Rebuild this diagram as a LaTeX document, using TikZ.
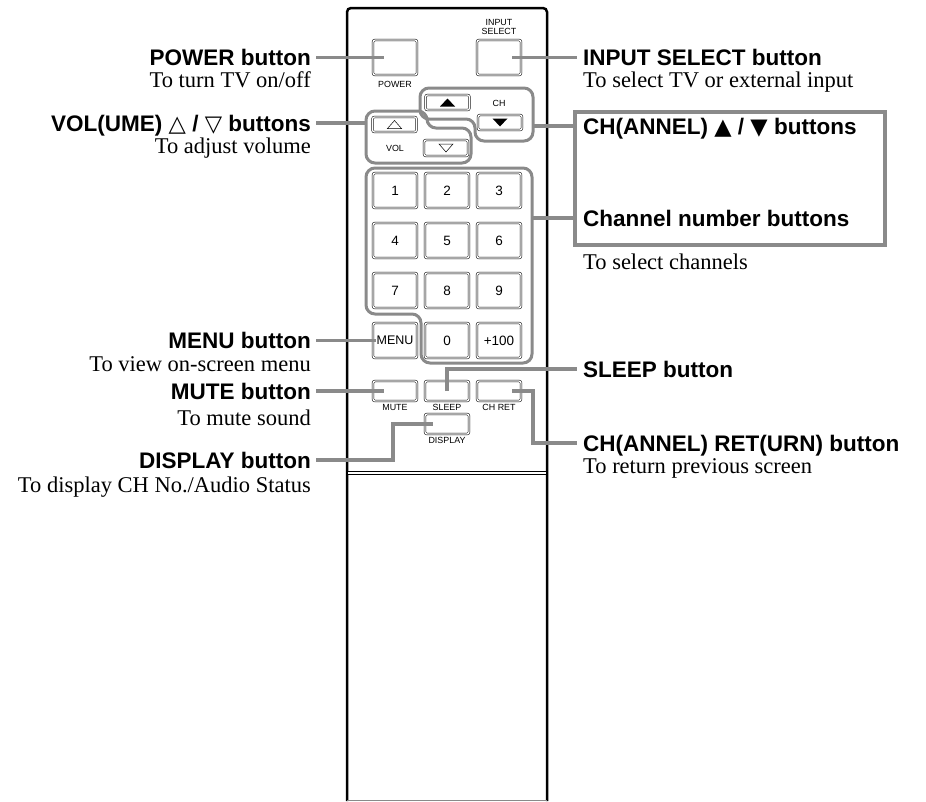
\documentclass[tikz,border=0pt]{standalone}
\usepackage{fontspec}
\setmainfont{Liberation Serif}
\setsansfont{Liberation Sans}
\newfontfamily\symfont{DejaVu Sans}
\usetikzlibrary{positioning}
\definecolor{leadgrey}{HTML}{8A8A8A}

\begin{document}
\begin{tikzpicture}[x=1pt, y=-1pt]
      \tikzstyle{button}=[draw, double, double distance=1.3pt, line width=0.5pt, rounded corners=2pt, inner sep=0pt, minimum width=44pt, font=\sffamily\fontsize{13.5}{13.5}\selectfont]
      \tikzstyle{keylabel}=[inner sep=0pt, font=\sffamily\fontsize{8.9}{9}\selectfont]
      \tikzstyle{headline}=[inner sep=0pt, text height=16pt, text depth=0pt, font=\sffamily\bfseries\fontsize{22.5}{24}\selectfont]
      \tikzstyle{remark}=[inner sep=0pt, text height=14pt, text depth=0pt, font=\fontsize{22.5}{24}\selectfont]
      \tikzstyle{ring}=[draw=leadgrey, line width=3pt, rounded corners=9pt]
      \tikzstyle{lead}=[draw=leadgrey, line width=3.5pt]

      \useasboundingbox (0,0) rectangle (926,801);

      % remote body
      \draw[line width=2.5pt, rounded corners=4pt] (347,801) -- (347,8) -- (547,8) -- (547,801);
      \draw[leadgrey, line width=1pt] (347,800) -- (547,800);
      \draw[double, double distance=2pt, line width=0.6pt] (348,473) -- (546,473);

      % keypad
      \foreach \r in {0, 1, 2}
      {
        \foreach \c in {0, 1, 2}
        {
          \pgfmathtruncatemacro{\n}{3*\r+\c+1}
          \path (395+\c*52, 190.5+\r*50) node[button, minimum height=35pt] (k\n) {\n};
        }
      }
      \path (395, 340.5) node[button, minimum height=35pt, font=\sffamily\fontsize{12.5}{12.5}\selectfont] (kMenu) {MENU};
      \path (447, 340.5) node[button, minimum height=35pt] (k0) {0};
      \path (499, 340.5) node[button, minimum height=35pt] (kPlus) {+100};

      % other buttons
      \path (395, 57.5) node[button, minimum height=35pt] (bPower) {};
      \path (499, 57.5) node[button, minimum height=35pt] (bInput) {};
      \path (447.5, 102.5) node[button, minimum height=15pt] (bChUp) {};
      \path (500, 122.5) node[button, minimum height=15pt] (bChDown) {};
      \path (394.5, 124.5) node[button, minimum height=15pt] (bVolUp) {};
      \path (446, 148) node[button, minimum height=16pt] (bVolDown) {};
      \path (395, 391) node[button, minimum height=20pt] (bMute) {};
      \path (447, 391) node[button, minimum height=20pt] (bSleep) {};
      \path (499, 391) node[button, minimum height=20pt] (bRet) {};
      \path (447, 424) node[button, minimum height=20pt] (bDisplay) {};

      \fill (bChUp.center) ++(-7.5,4) -- ++(15,0) -- ++(-7.5,-8) -- cycle;
      \fill (bChDown.center) ++(-7.5,-4) -- ++(15,0) -- ++(-7.5,8) -- cycle;
      \draw[line width=0.5pt] (bVolUp.center) ++(-7,4) -- ++(14,0) -- ++(-7,-8) -- cycle;
      \draw[line width=0.5pt] (bVolDown.center) ++(-7,-4) -- ++(14,0) -- ++(-7,8) -- cycle;

      \path (395, 84) node[keylabel] (lPower) {POWER};
      \path (499, 27) node[keylabel, align=center] (lInput) {INPUT\\SELECT};
      \path (499, 103) node[keylabel] (lCh) {CH};
      \path (395, 148) node[keylabel] (lVol) {VOL};
      \path (395, 407) node[keylabel] (lMute) {MUTE};
      \path (447, 407) node[keylabel] (lSleep) {SLEEP};
      \path (499, 407) node[keylabel] (lRet) {CH RET};
      \path (447, 440) node[keylabel] (lDisplay) {DISPLAY};

      % grey groups
      \draw[ring] (420,88) -- (533,88) -- (533,141) -- (475,141) -- (475,119) -- (420,119) -- cycle;
      \draw[ring] (366,111) -- (427,111) -- (427,128) -- (471,128) -- (471,163) -- (366,163) -- cycle;
      \draw[ring] (366,168) -- (532,168) -- (532,363) -- (421,363) -- (421,314) -- (366,314) -- cycle;
      \coordinate (volEdge) at (366,123);
      \coordinate (chEdge) at (533,126);
      \coordinate (numEdge) at (532,218);

      % left texts
      \path (311, 57.5) node[headline, anchor=east] (tPower) {POWER button};
      \path (311, 80) node[remark, anchor=east] (dPower) {To turn TV on/off};
      \path (311, 123) node[headline, anchor=east] (tVol) {VOL(UME) {\symfont △} / {\symfont ▽} buttons};
      \path (311, 146) node[remark, anchor=east] (dVol) {To adjust volume};
      \path (311, 340.5) node[headline, anchor=east] (tMenu) {MENU button};
      \path (311, 364) node[remark, anchor=east] (dMenu) {To view on-screen menu};
      \path (311, 391) node[headline, anchor=east] (tMute) {MUTE button};
      \path (311, 418) node[remark, anchor=east] (dMute) {To mute sound};
      \path (311, 460) node[headline, anchor=east] (tDisplay) {DISPLAY button};
      \path (311, 485) node[remark, anchor=east] (dDisplay) {To display CH No./Audio Status};

      % right texts
      \path (583, 57.5) node[headline, anchor=west] (tInput) {INPUT SELECT button};
      \path (583, 80) node[remark, anchor=west] (dInput) {To select TV or external input};
      \path (573, 110) node[draw=leadgrey, line width=3.5pt, anchor=north west, minimum width=310pt, minimum height=133pt] (chBox) {};
      \path (583, 126) node[headline, anchor=west] (tCh) {CH(ANNEL) {\symfont ▲} / {\symfont ▼} buttons};
      \path (583, 218) node[headline, anchor=west] (tNum) {Channel number buttons};
      \path (583, 262) node[remark, anchor=west] (dNum) {To select channels};
      \path (583, 369) node[headline, anchor=west] (tSleep) {SLEEP button};
      \path (583, 443) node[headline, anchor=west] (tRet) {CH(ANNEL) RET(URN) button};
      \path (583, 466) node[remark, anchor=west] (dRet) {To return previous screen};

      % leaders
      \draw[lead]
        ([xshift=5pt]tPower.east) -- ([xshift=11pt]bPower.west)
        ([xshift=5pt]tVol.east) -- (volEdge)
        ([xshift=5pt]tMenu.east) -- ([xshift=3pt]kMenu.west)
        ([xshift=5pt]tMute.east) -- ([xshift=11pt]bMute.west);
      \draw[lead] ([xshift=5pt]tDisplay.east) -| ([xshift=-54pt]bDisplay.center) -- ([xshift=-14pt]bDisplay.center);

      \draw[lead]
        ([xshift=13pt]bInput.center) -- ([xshift=-6pt]tInput.west)
        (chEdge) -- ([xshift=-10pt]tCh.west)
        (numEdge) -- ([xshift=-10pt]tNum.west);
      \draw[lead] (bSleep.center) |- ([xshift=-6pt]tSleep.west);
      \draw[lead] ([xshift=13pt]bRet.center) -- ([xshift=34pt]bRet.center) |- ([xshift=-6pt]tRet.west);
    \end{tikzpicture}
\end{document}
